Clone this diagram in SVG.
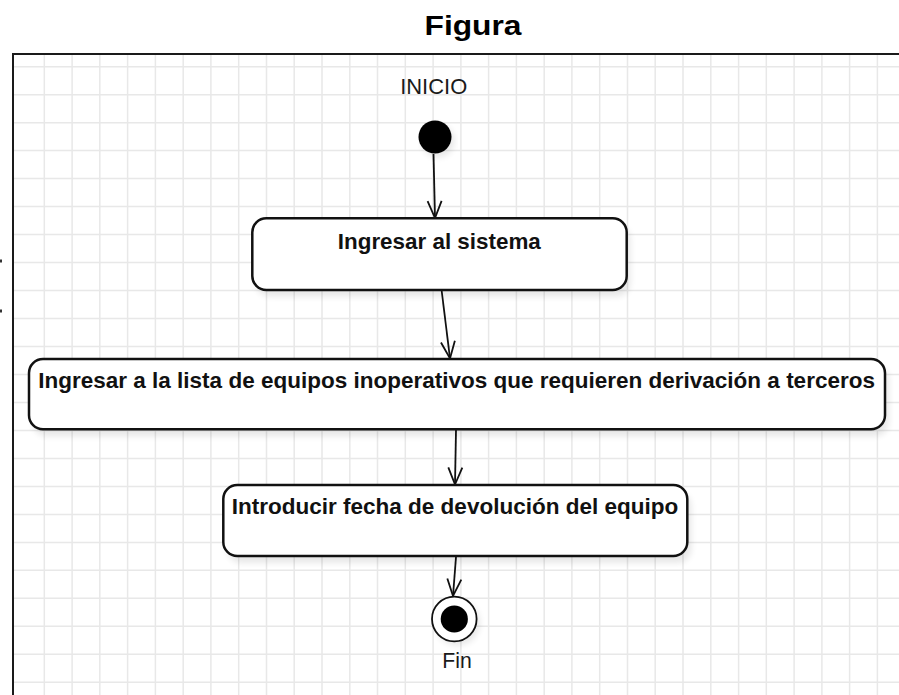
<svg xmlns="http://www.w3.org/2000/svg" width="899" height="695" viewBox="0 0 899 695">
  <style>
    .grid { stroke: #e8e8e8; stroke-width: 1.5; fill: none; }
    .frame { stroke: #1a1a1a; stroke-width: 2; fill: none; }
    .box { fill: #ffffff; stroke: #111111; stroke-width: 2.5; }
    .shadow { fill: #000000; opacity: 0.09; }
    .label { font-family: "Liberation Sans", Arial, sans-serif; font-weight: bold; font-size: 22px; fill: #111111; }
    .plain { font-family: "Liberation Sans", Arial, sans-serif; font-size: 22px; fill: #1a1a1a; }
    .title { font-family: "Liberation Sans", Arial, sans-serif; font-weight: bold; font-size: 28px; fill: #000000; }
    .conn { stroke: #111111; stroke-width: 1.8; fill: none; }
  </style>
  <defs>
    <filter id="blur" x="-10%" y="-30%" width="120%" height="160%">
      <feGaussianBlur stdDeviation="3"/>
    </filter>
    <marker id="open" viewBox="-20 -10 22 20" markerWidth="22" markerHeight="20" refX="0" refY="0" orient="auto" markerUnits="userSpaceOnUse">
      <path d="M-17,-7 L0,0 L-17,7" fill="none" stroke="#111111" stroke-width="1.8"/>
    </marker>
  </defs>

  <rect x="0" y="0" width="899" height="695" fill="#ffffff"/>

  <text class="title" x="473" y="35" text-anchor="middle" textLength="97" lengthAdjust="spacingAndGlyphs">Figura</text>

  <g id="grid">
    <path class="grid" d="M44.3,55V695 M72.1,55V695 M99.8,55V695 M127.6,55V695 M155.4,55V695 M183.2,55V695 M210.9,55V695 M238.7,55V695 M266.5,55V695 M294.2,55V695 M322,55V695 M349.8,55V695 M377.5,55V695 M405.3,55V695 M433.1,55V695 M460.9,55V695 M488.6,55V695 M516.4,55V695 M544.2,55V695 M571.9,55V695 M599.7,55V695 M627.5,55V695 M655.2,55V695 M683,55V695 M710.8,55V695 M738.6,55V695 M766.3,55V695 M794.1,55V695 M821.9,55V695 M849.6,55V695 M877.4,55V695"/>
    <path class="grid" d="M14,66.7H899 M14,94.7H899 M14,122.7H899 M14,150.6H899 M14,178.6H899 M14,206.6H899 M14,234.6H899 M14,262.6H899 M14,290.5H899 M14,318.5H899 M14,346.5H899 M14,374.5H899 M14,402.5H899 M14,430.4H899 M14,458.4H899 M14,486.4H899 M14,514.4H899 M14,542.4H899 M14,570.3H899 M14,598.3H899 M14,626.3H899 M14,654.3H899 M14,682.3H899"/>
    <path class="frame" d="M13,695V54H899"/>
    <rect x="0" y="259.5" width="2" height="3" fill="#333333"/>
    <rect x="0" y="309.5" width="2" height="3" fill="#333333"/>
  </g>

  <g id="connectors">
    <line class="conn" x1="433.5" y1="154" x2="435" y2="218" marker-end="url(#open)"/>
    <line class="conn" x1="441.7" y1="291" x2="450" y2="358.5" marker-end="url(#open)"/>
    <line class="conn" x1="456" y1="430" x2="455" y2="484.5" marker-end="url(#open)"/>
    <line class="conn" x1="456" y1="557" x2="453" y2="596" marker-end="url(#open)"/>
  </g>

  <g id="inicio">
    <text class="plain" x="433.7" y="94.3" text-anchor="middle" textLength="67" lengthAdjust="spacingAndGlyphs">INICIO</text>
    <circle cx="438" cy="141" r="16.5" class="shadow" filter="url(#blur)"/>
    <circle cx="435" cy="137" r="16.5" fill="#000000"/>
  </g>

  <g id="ingresar-sistema">
    <rect x="256" y="225" width="374.4" height="71.7" rx="14" class="shadow" filter="url(#blur)"/>
    <rect x="252.3" y="218.3" width="374.4" height="71.7" rx="14" class="box"/>
    <text class="label" x="439.3" y="249.3" text-anchor="middle" textLength="203" lengthAdjust="spacingAndGlyphs">Ingresar al sistema</text>
  </g>

  <g id="ingresar-lista">
    <rect x="33" y="366" width="856" height="70.3" rx="14" class="shadow" filter="url(#blur)"/>
    <rect x="29" y="359" width="856" height="70.3" rx="14" class="box"/>
    <text class="label" x="456.6" y="388.3" text-anchor="middle" textLength="836.7" lengthAdjust="spacingAndGlyphs">Ingresar a la lista de equipos inoperativos que requieren derivación a terceros</text>
  </g>

  <g id="introducir-fecha">
    <rect x="227.3" y="492" width="464" height="71" rx="14" class="shadow" filter="url(#blur)"/>
    <rect x="223.3" y="485" width="464" height="71" rx="14" class="box"/>
    <text class="label" x="455" y="514.3" text-anchor="middle" textLength="446.6" lengthAdjust="spacingAndGlyphs">Introducir fecha de devolución del equipo</text>
  </g>

  <g id="fin">
    <circle cx="457.5" cy="623" r="22.5" class="shadow" filter="url(#blur)"/>
    <circle cx="454.3" cy="619" r="22.3" fill="#ffffff" stroke="#111111" stroke-width="1.8"/>
    <circle cx="454.3" cy="619" r="13.6" fill="#000000"/>
    <text class="plain" x="457" y="668.3" text-anchor="middle" textLength="29.4" lengthAdjust="spacingAndGlyphs">Fin</text>
  </g>
</svg>
